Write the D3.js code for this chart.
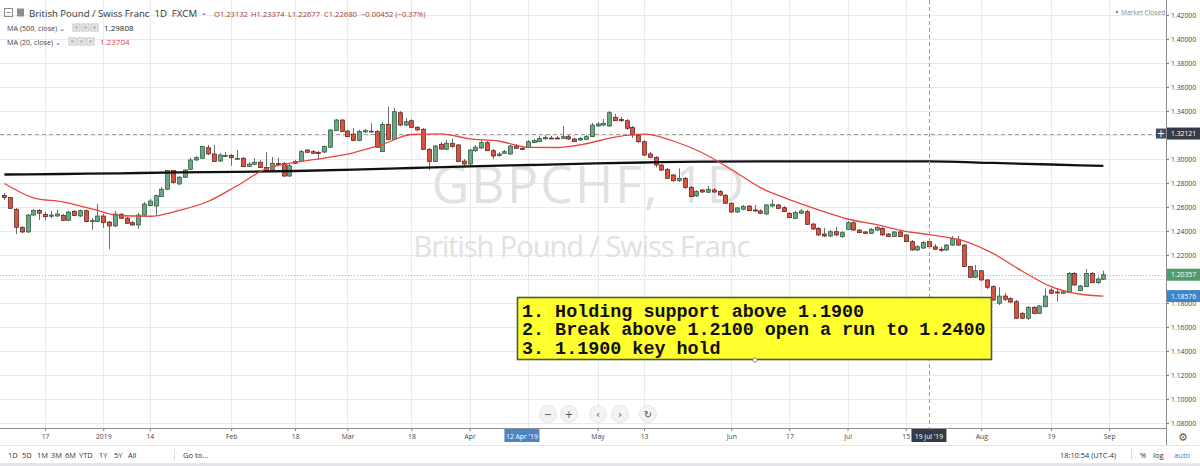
<!DOCTYPE html>
<html><head><meta charset="utf-8">
<script src="https://cdn.jsdelivr.net/npm/d3@7"></script>
<style>body{margin:0;background:#fff;overflow:hidden}svg{display:block}</style>
</head><body>
<svg id="c" width="1200" height="466"></svg>
<script>
// ---------- DATA ----------
const calendarStart = "2018-12-06", calendarEnd = "2019-09-03";
const holidays = ["2018-12-25", "2019-01-01"];

const open = [1.2696,1.2678,1.2581,1.2429,1.2392,1.2533,1.2571,1.2539,1.2523,1.2525,
1.2531,1.2489,1.2564,1.2525,1.2569,1.2479,1.2478,1.2525,1.2475,1.2442,
1.2539,1.2508,1.2469,1.245,1.2533,1.2611,1.2608,1.2686,1.2748,1.2903,
1.2792,1.2848,1.2914,1.2992,1.3006,1.3094,1.3042,1.2983,1.3025,1.3028,
1.2998,1.3006,1.2939,1.2956,1.2973,1.2928,1.2908,1.2964,1.2964,1.2858,
1.2964,1.2978,1.3075,1.3061,1.3054,1.3058,1.3098,1.3236,1.3325,1.3233,
1.3208,1.3153,1.3225,1.3228,1.3228,1.3061,1.3289,1.3164,1.3386,1.3283,
1.3319,1.3264,1.3248,1.3081,1.2978,1.3123,1.3081,1.3131,1.3117,1.2983,
1.2958,1.3069,1.3092,1.3136,1.3069,1.3028,1.3048,1.3042,1.3108,1.3089,
1.3098,1.3136,1.3144,1.3169,1.3175,1.3175,1.3172,1.3186,1.3167,1.3158,
1.3164,1.3186,1.3275,1.3283,1.3275,1.3348,1.3331,1.3319,1.3264,1.3198,
1.3144,1.3042,1.3014,1.295,1.2914,1.2867,1.2819,1.2839,1.2764,1.2692,
1.2742,1.2723,1.2742,1.2728,1.2698,1.2631,1.2558,1.2581,1.2608,1.2575,
1.2567,1.2542,1.2608,1.2617,1.2594,1.2548,1.2506,1.2548,1.2561,1.2458,
1.2422,1.2375,1.2358,1.2394,1.2353,1.2414,1.2469,1.2408,1.2392,1.2381,
1.2408,1.2422,1.2375,1.2353,1.2392,1.2367,1.2311,1.2242,1.2258,1.23132,
1.2268,1.2248,1.2242,1.2283,1.2331,1.2283,1.2103,1.2014,1.2069,1.1992,
1.1936,1.1798,1.1858,1.1836,1.1811,1.1714,1.1673,1.1764,1.1714,1.1769,
1.1908,1.1892,1.1881,1.1886,1.2047,1.1903,1.1936,1.2047,1.1969,1.1998];

const high = [1.2717,1.2683,1.2592,1.2442,1.2542,1.2583,1.2583,1.2561,1.2569,1.2575,
1.2542,1.2567,1.2575,1.2579,1.2579,1.2508,1.2625,1.2542,1.2483,1.2567,
1.255,1.2517,1.2483,1.255,1.2642,1.2667,1.2703,1.2767,1.2908,1.2908,
1.2858,1.2917,1.3008,1.3025,1.3108,1.3117,1.3117,1.305,1.3058,1.3042,
1.3075,1.3017,1.2975,1.3008,1.2992,1.3058,1.3017,1.3011,1.2975,1.2967,
1.2992,1.3075,1.3083,1.3075,1.3067,1.3113,1.325,1.3333,1.3333,1.3242,
1.3258,1.3242,1.325,1.3298,1.3242,1.3308,1.3436,1.3425,1.34,1.3342,
1.3333,1.3275,1.3258,1.3092,1.3117,1.3142,1.3158,1.3172,1.3125,1.3,
1.3083,1.3117,1.3158,1.315,1.3083,1.3058,1.3075,1.3117,1.3125,1.31,
1.3158,1.3167,1.3192,1.32,1.3192,1.3192,1.3275,1.32,1.3175,1.3183,
1.32,1.33,1.3308,1.3333,1.34,1.3375,1.335,1.3333,1.3275,1.3208,
1.3158,1.3058,1.3025,1.2958,1.2925,1.2875,1.2922,1.285,1.2775,1.2742,
1.275,1.2775,1.2758,1.2742,1.2708,1.2642,1.26,1.2617,1.2617,1.2617,
1.2583,1.2625,1.2664,1.2625,1.2608,1.2558,1.2567,1.2583,1.2575,1.2467,
1.2433,1.2425,1.2408,1.2433,1.24,1.2483,1.2483,1.2417,1.24,1.2425,
1.2442,1.2433,1.2383,1.24,1.24,1.2375,1.2325,1.2283,1.2317,1.23374,
1.2292,1.2267,1.2292,1.2358,1.2358,1.2292,1.2108,1.2117,1.2075,1.2,
1.195,1.1931,1.1883,1.185,1.1825,1.1725,1.1775,1.1775,1.1783,1.1922,
1.1925,1.1925,1.1908,1.2058,1.2058,1.195,1.2083,1.2058,1.2017,1.2069];

const low = [1.2658,1.2583,1.2375,1.2383,1.2383,1.2525,1.2492,1.2486,1.2506,1.2517,
1.2483,1.2483,1.2525,1.2517,1.2471,1.2408,1.2475,1.2425,1.2248,1.2433,
1.25,1.2458,1.2442,1.2417,1.2525,1.2608,1.2533,1.2683,1.2742,1.2792,
1.2783,1.2842,1.2908,1.2983,1.3,1.3033,1.2975,1.2975,1.3017,1.2944,
1.2992,1.2933,1.2933,1.295,1.2925,1.2892,1.29,1.295,1.285,1.285,
1.2958,1.2975,1.305,1.3042,1.2992,1.305,1.3092,1.3233,1.3225,1.3183,
1.315,1.315,1.3217,1.3217,1.3092,1.3058,1.3158,1.3158,1.3275,1.3275,
1.3258,1.3233,1.3075,1.2908,1.2975,1.3075,1.3075,1.3092,1.2975,1.2933,
1.2942,1.3058,1.3083,1.3067,1.3,1.3017,1.3042,1.3033,1.3083,1.3075,
1.3092,1.3133,1.3142,1.3158,1.3167,1.3167,1.3167,1.3158,1.3142,1.315,
1.3158,1.3183,1.3267,1.3275,1.3267,1.3317,1.3308,1.3242,1.3175,1.3133,
1.3025,1.3008,1.2931,1.29,1.2833,1.2808,1.2808,1.275,1.2683,1.2683,
1.2717,1.2717,1.2717,1.2692,1.2625,1.255,1.255,1.2575,1.2567,1.2558,
1.2542,1.2533,1.26,1.2583,1.2558,1.2508,1.25,1.2542,1.245,1.2408,
1.2358,1.235,1.235,1.2358,1.2342,1.2408,1.24,1.2383,1.2375,1.2375,
1.24,1.2358,1.235,1.235,1.235,1.2308,1.2233,1.2233,1.225,1.22677,
1.2242,1.2225,1.2233,1.2275,1.2275,1.21,1.2008,1.2008,1.1983,1.1917,
1.1817,1.1783,1.1817,1.18,1.1667,1.1667,1.1658,1.1708,1.1708,1.1767,
1.1875,1.1811,1.1875,1.1883,1.1942,1.19,1.1933,1.1967,1.1958,1.1992];

const close = [1.2679,1.2589,1.2431,1.2392,1.2533,1.2571,1.2548,1.2519,1.2533,1.2542,
1.2489,1.2558,1.2528,1.2569,1.2478,1.2486,1.2525,1.2469,1.2442,1.2542,
1.2506,1.2464,1.245,1.2533,1.2625,1.265,1.2694,1.2748,1.2903,1.2803,
1.2848,1.2908,1.2992,1.3011,1.3103,1.3042,1.2978,1.3033,1.3029,1.3011,
1.3006,1.2936,1.2958,1.2973,1.2928,1.29,1.2964,1.2956,1.2858,1.2944,
1.2978,1.3061,1.3056,1.3048,1.305,1.3103,1.3242,1.3325,1.3228,1.3186,
1.3153,1.3228,1.3236,1.3233,1.3098,1.3289,1.3164,1.3394,1.3283,1.3311,
1.3264,1.3242,1.3081,1.2978,1.3108,1.3083,1.3131,1.3103,1.2978,1.2958,
1.3075,1.3098,1.3136,1.3069,1.3025,1.3042,1.3061,1.3108,1.3089,1.3083,
1.3144,1.3153,1.3172,1.3178,1.3172,1.3169,1.3186,1.3167,1.3144,1.3172,
1.3186,1.3283,1.3292,1.3298,1.3386,1.3319,1.3319,1.3256,1.32,1.3144,
1.3033,1.3014,1.295,1.2908,1.2839,1.2819,1.2839,1.2764,1.2686,1.2728,
1.2725,1.2748,1.2725,1.27,1.2631,1.2558,1.2592,1.2603,1.2569,1.2567,
1.2548,1.2617,1.2623,1.2589,1.2561,1.2511,1.2553,1.2567,1.2456,1.2417,
1.2367,1.2358,1.2394,1.2367,1.2386,1.2469,1.2408,1.2386,1.2381,1.2414,
1.2431,1.2367,1.2353,1.2392,1.2353,1.2311,1.2242,1.2269,1.2303,1.2268,
1.2248,1.2242,1.2283,1.2339,1.2283,1.2103,1.2014,1.2069,1.1992,1.1931,
1.1825,1.1858,1.1831,1.1808,1.1673,1.1673,1.1764,1.1714,1.1775,1.1858,
1.1881,1.1888,1.1894,1.2047,1.195,1.1942,1.2047,1.1969,1.2,1.20357];

// moving averages read at bar positions (bar index into the calendar)
const ma20Bars = [0,5,10,15,20,25,30,35,40,45,50,55,60,65,70,75,80,85,90,95,100,105,110,115,120,125,130,135,140,145,150,155,159,165,170,175,180,185,189];
const ma20Vals = [1.2796,1.2677,1.2642,1.2585,1.2527,1.2523,1.2571,1.2646,1.2777,1.2918,1.2971,1.3008,1.3052,1.3121,1.3204,1.3210,1.3168,1.3150,1.3097,1.3096,1.3127,1.3183,1.3207,1.3150,1.3052,1.2913,1.2762,1.2662,1.2577,1.2500,1.2454,1.2397,1.23704,1.2318,1.2213,1.2067,1.1936,1.1873,1.18576];
const ma500Bars = [0,10,20,30,40,50,60,70,80,90,100,110,120,130,140,150,159,170,180,189];
const ma500Vals = [1.2871,1.2875,1.2881,1.2888,1.2893,1.2900,1.2911,1.2925,1.2939,1.2950,1.2961,1.2971,1.2978,1.2980,1.2981,1.2981,1.29808,1.2967,1.2954,1.2942];

const priceTicks = [1.08,1.10,1.12,1.14,1.16,1.18,1.20,1.22,1.24,1.26,1.28,1.30,1.32,1.34,1.36,1.38,1.40,1.42];
const hiddenPriceLabels = [1.20];   // covered by the last-price tag in the reference
const timeTickDates = ["2018-12-17","2019-01-02","2019-01-14","2019-02-01","2019-02-18","2019-03-01","2019-03-18","2019-04-01","2019-04-15","2019-05-01","2019-05-13","2019-06-03","2019-06-17","2019-07-01","2019-07-15","2019-08-01","2019-08-19","2019-09-02"];
const timeTickLabels = ["17","2019","14","Feb","18","Mar","18","Apr","","May","13","Jun","17","Jul","15","Aug","19","Sep"];

const crossDate = "2019-07-19", crossPrice = 1.32121;
const markDate = "2019-04-12";
const lastClose = 1.20357, lastMA20 = 1.18576;
const notes = ["1. Holding support above 1.1900", "2. Break above 1.2100 open a run to 1.2400", "3. 1.1900 key hold"];

// ---------- CALENDAR ----------
const days = [];
for (let d = new Date(calendarStart + "T00:00:00Z"); d <= new Date(calendarEnd + "T00:00:00Z"); d.setUTCDate(d.getUTCDate() + 1)) {
  const s = d.toISOString().slice(0, 10), wd = d.getUTCDay();
  if (wd === 0 || wd === 6 || holidays.includes(s)) continue;
  days.push(s);
}
const idx = s => days.indexOf(s);

// ---------- DRAW ----------
const svg = d3.select("#c");
const plotR = 1166, plotB = 428;
const x = d3.scaleLinear().domain([0, 189]).range([4.4, 1103.4]);
const y = d3.scaleLinear().domain([1.08, 1.42]).range([423, 15]);
const UI = "'Open Sans', 'DejaVu Sans', sans-serif";

const defs = svg.append("defs");
defs.append("clipPath").attr("id", "plot").append("rect").attr("x", 0).attr("y", 0).attr("width", plotR).attr("height", plotB);
defs.append("clipPath").attr("id", "yax").append("rect").attr("x", 0).attr("y", 0).attr("width", 40).attr("height", 426);

// grid
const grid = svg.append("g").attr("clip-path", "url(#plot)");
grid.selectAll(".gh").data(priceTicks).join("line")
  .attr("x1", 0).attr("x2", plotR).attr("y1", d => Math.round(y(d)) + 0.5).attr("y2", d => Math.round(y(d)) + 0.5)
  .attr("stroke", "#e8eaee");
grid.selectAll(".gv").data(timeTickDates).join("line")
  .attr("y1", 0).attr("y2", plotB).attr("x1", d => Math.round(x(idx(d))) + 0.5).attr("x2", d => Math.round(x(idx(d))) + 0.5)
  .attr("stroke", "#e8eaee");

// watermark
svg.append("text").attr("x", 588).attr("y", 203).attr("text-anchor", "middle")
  .attr("font-family", UI).attr("font-size", 52).attr("fill", "#e1e1e1")
  .attr("textLength", 313).attr("lengthAdjust", "spacing").text("GBPCHF, 1D");
svg.append("text").attr("x", 582).attr("y", 257).attr("text-anchor", "middle")
  .attr("font-family", UI).attr("font-size", 29).attr("fill", "#e1e1e1")
  .attr("textLength", 337).attr("lengthAdjust", "spacing").text("British Pound / Swiss Franc");

const plot = svg.append("g").attr("clip-path", "url(#plot)");

// crosshair + price lines
plot.append("line").attr("x1", 0).attr("x2", plotR).attr("y1", Math.round(y(crossPrice)) + 0.5).attr("y2", Math.round(y(crossPrice)) + 0.5)
  .attr("stroke", "#9a9a9a").attr("stroke-dasharray", "4,3");
plot.append("line").attr("x1", 0).attr("x2", plotR).attr("y1", Math.round(y(lastClose)) + 0.5).attr("y2", Math.round(y(lastClose)) + 0.5)
  .attr("stroke", "#a8a8a8").attr("stroke-dasharray", "1,2");
svg.append("line").attr("y1", 0).attr("y2", plotB + 14).attr("x1", Math.round(x(idx(crossDate))) + 0.5).attr("x2", Math.round(x(idx(crossDate))) + 0.5)
  .attr("stroke", "#9a9a9a").attr("stroke-dasharray", "4,3");

// candles
const bars = d3.range(open.length).map(i => ({i, o: open[i], h: high[i], l: low[i], c: close[i]}));
const upFill = "#6ba583", upLine = "#225437", dnFill = "#d75442", dnLine = "#5b1a13";
plot.selectAll(".wick").data(bars).join("line")
  .attr("x1", d => Math.round(x(d.i)) + 0.5).attr("x2", d => Math.round(x(d.i)) + 0.5)
  .attr("y1", d => y(d.h)).attr("y2", d => y(d.l)).attr("stroke", "#6d6d6f").attr("stroke-width", 1);
plot.selectAll(".body").data(bars).join("rect")
  .attr("x", d => Math.round(x(d.i)) - 1.5).attr("width", 4)
  .attr("y", d => y(Math.max(d.o, d.c)))
  .attr("height", d => Math.max(1, y(Math.min(d.o, d.c)) - y(Math.max(d.o, d.c))))
  .attr("fill", d => d.c >= d.o ? upFill : dnFill)
  .attr("stroke", d => d.c >= d.o ? upLine : dnLine).attr("stroke-width", 0.7);

// moving averages
const line = d3.line().x(d => x(d[0])).y(d => y(d[1])).curve(d3.curveMonotoneX);
plot.append("path").attr("d", line(ma500Bars.map((b, k) => [b, ma500Vals[k]])))
  .attr("fill", "none").attr("stroke", "#111").attr("stroke-width", 2.3);
plot.append("path").attr("d", line(ma20Bars.map((b, k) => [b, ma20Vals[k]])))
  .attr("fill", "none").attr("stroke", "#e8453c").attr("stroke-width", 1.3);

// annotation box
const box = svg.append("g");
box.append("rect").attr("x", 517.5).attr("y", 297.5).attr("width", 474).attr("height", 62)
  .attr("fill", "#ffff2e").attr("stroke", "#4f5a35").attr("stroke-width", 1.6);
box.selectAll("text").data(notes).join("text")
  .attr("x", 522).attr("y", (d, i) => 316.5 + i * 18.8)
  .attr("font-family", "'Liberation Mono', 'Courier New', monospace").attr("font-weight", "bold")
  .attr("font-size", 18.4).attr("fill", "#111").attr("xml:space", "preserve").text(d => d);
box.append("circle").attr("cx", 755).attr("cy", 360).attr("r", 2.2).attr("fill", "#fff").attr("stroke", "#888");

// price axis
svg.append("rect").attr("x", plotR).attr("y", 0).attr("width", 34).attr("height", 446).attr("fill", "#fff");
const yAx = svg.append("g").attr("transform", `translate(${plotR},0)`).attr("clip-path", "url(#yax)")
  .call(d3.axisRight(y).tickValues(priceTicks)
    .tickFormat(d => hiddenPriceLabels.includes(d) ? "" : d3.format(".5f")(d)).tickSize(3).tickPadding(2));
yAx.select(".domain").remove();
yAx.selectAll("line").attr("stroke", "#777");
yAx.selectAll("text").attr("font-family", UI).attr("font-size", 6.8).attr("fill", "#444");
svg.append("line").attr("x1", plotR + 0.5).attr("x2", plotR + 0.5).attr("y1", 0).attr("y2", 446).attr("stroke", "#8c8c8c");

// time axis
const xAx = svg.append("g").attr("transform", `translate(0,${plotB})`)
  .call(d3.axisBottom(x).tickValues(timeTickDates.map(idx)).tickFormat((d, i) => timeTickLabels[i]).tickSize(3).tickPadding(3));
xAx.select(".domain").remove();
xAx.selectAll("line").attr("stroke", "#777");
xAx.selectAll("text").attr("font-family", UI).attr("font-size", 6.8).attr("fill", "#444");
svg.append("line").attr("x1", 0).attr("x2", plotR).attr("y1", plotB + 0.5).attr("y2", plotB + 0.5).attr("stroke", "#8c8c8c");
svg.append("line").attr("x1", 0).attr("x2", 1200).attr("y1", 445.5).attr("y2", 445.5).attr("stroke", "#e3e5ea");

// date labels on time axis
function dateTag(d, label, fill) {
  const cx = x(idx(d));
  svg.append("rect").attr("x", cx - 17.5).attr("y", 429).attr("width", 35).attr("height", 13).attr("fill", fill);
  svg.append("text").attr("x", cx).attr("y", 438.5).attr("text-anchor", "middle").attr("font-family", UI)
    .attr("font-size", 6.8).attr("fill", "#fff").text(label);
}
dateTag(markDate, "12 Apr '19", "#4d82c3");
dateTag(crossDate, "19 Jul '19", "#343a47");

// price tags
function priceTag(p, fill) {
  const cy = y(p);
  svg.append("rect").attr("x", plotR + 1).attr("y", cy - 6).attr("width", 34).attr("height", 12).attr("fill", fill);
  svg.append("text").attr("x", plotR + 5).attr("y", cy + 2.5).attr("font-family", UI).attr("font-size", 6.8)
    .attr("fill", "#fff").text(d3.format(".5f")(p));
}
priceTag(crossPrice, "#363a45");
priceTag(lastClose, "#4f9c68");
priceTag(lastMA20, "#3d85c6");
svg.append("rect").attr("x", 1156).attr("y", y(crossPrice) - 5).attr("width", 10).attr("height", 10).attr("fill", "#4a4e59");
svg.append("text").attr("x", 1161).attr("y", y(crossPrice) + 3.5).attr("text-anchor", "middle").attr("font-family", "DejaVu Sans")
  .attr("font-size", 10).attr("fill", "#fff").text("+");

// header
const hdr = svg.append("g").attr("font-family", UI);
hdr.append("rect").attr("x", 4.5).attr("y", 8.5).attr("width", 8).attr("height", 8).attr("fill", "none").attr("stroke", "#8a8a8a");
hdr.append("line").attr("x1", 6.5).attr("x2", 10.5).attr("y1", 12.5).attr("y2", 12.5).attr("stroke", "#8a8a8a");
hdr.append("rect").attr("x", 17).attr("y", 8.5).attr("width", 7).attr("height", 8).attr("fill", "#8f8f8f");
hdr.append("text").attr("x", 29).attr("y", 16.5).attr("font-size", 9.6).attr("fill", "#333")
  .attr("xml:space", "preserve").text("British Pound / Swiss Franc  1D  FXCM");
hdr.append("text").attr("x", 201).attr("y", 15).attr("font-size", 7).attr("fill", "#333").text("⌄");
const ohlcTxt = ["O1.23132", "H1.23374", "L1.22677", "C1.22680", "−0.00452 (−0.37%)"];
const ohlcX = [214, 251, 288, 324, 361];
hdr.selectAll(".ohlc").data(ohlcTxt).join("text").attr("x", (d, i) => ohlcX[i]).attr("y", 16.5)
  .attr("font-size", 7.6).attr("fill", "#9b3b38").text(d => d);
function maRow(yy, label, val, col, vx) {
  hdr.append("text").attr("x", 7).attr("y", yy).attr("font-size", 7.2).attr("fill", "#444").text(label + " ⌄");
  [0, 1, 2].forEach(k => {
    hdr.append("rect").attr("x", vx - 31 + k * 9).attr("y", yy - 7).attr("width", 7).attr("height", 7)
      .attr("fill", "#fff").attr("stroke", "#aaa").attr("stroke-width", 0.8);
    hdr.append("rect").attr("x", vx - 29.5 + k * 9).attr("y", yy - 5.5).attr("width", 4).attr("height", 4).attr("fill", "#c4c4c4");
  });
  hdr.append("text").attr("x", vx).attr("y", yy).attr("font-size", 8).attr("fill", col).text(val);
}
maRow(31, "MA (500, close)", "1.29808", "#222", 104);
maRow(45, "MA (20, close)", "1.23704", "#e0453d", 100);

// market closed
svg.append("circle").attr("cx", 1117).attr("cy", 12).attr("r", 1.3).attr("fill", "#888");
svg.append("text").attr("x", 1121).attr("y", 14.5).attr("font-family", UI).attr("font-size", 6.6).attr("fill", "#888").text("Market Closed");

// zoom buttons
const btns = [[548, "−"], [569, "+"], [598, "‹"], [620, "›"], [648, "↻"]];
btns.forEach(([bx, t]) => {
  svg.append("circle").attr("cx", bx).attr("cy", 414).attr("r", 8.5).attr("fill", "#f2f3f5").attr("stroke", "#e6e7ea");
  svg.append("text").attr("x", bx).attr("y", 417.5).attr("text-anchor", "middle").attr("font-family", "DejaVu Sans")
    .attr("font-size", 10).attr("fill", "#555").text(t);
});

// gear
svg.append("text").attr("x", 1183).attr("y", 441).attr("text-anchor", "middle").attr("font-family", "DejaVu Sans")
  .attr("font-size", 11).attr("fill", "#555").text("⚙");

// bottom toolbar
svg.append("rect").attr("x", 0).attr("y", 463).attr("width", 1200).attr("height", 3).attr("fill", "#e4e6eb");
const ranges = ["1D", "5D", "1M", "3M", "6M", "YTD", "1Y", "5Y", "All"];
const rangeX = [8, 22, 37, 51, 65, 79, 99, 114, 128];
svg.selectAll(".rng").data(ranges).join("text").attr("x", (d, i) => rangeX[i]).attr("y", 457.5)
  .attr("font-family", UI).attr("font-size", 7.4).attr("fill", "#333").text(d => d);
svg.append("line").attr("x1", 174.5).attr("x2", 174.5).attr("y1", 449).attr("y2", 460).attr("stroke", "#ddd");
svg.append("text").attr("x", 183).attr("y", 457.5).attr("font-family", UI).attr("font-size", 7.6).attr("fill", "#333").text("Go to...");
svg.append("text").attr("x", 1060).attr("y", 457.5).attr("font-family", UI).attr("font-size", 7.4).attr("fill", "#333").text("18:10:54 (UTC-4)");
svg.append("line").attr("x1", 1131.5).attr("x2", 1131.5).attr("y1", 449).attr("y2", 460).attr("stroke", "#ddd");
svg.append("text").attr("x", 1140).attr("y", 457.5).attr("font-family", UI).attr("font-size", 7.6).attr("fill", "#333").text("%");
svg.append("text").attr("x", 1153).attr("y", 457.5).attr("font-family", UI).attr("font-size", 7.6).attr("fill", "#333").text("log");
svg.append("text").attr("x", 1174).attr("y", 457.5).attr("font-family", UI).attr("font-size", 7.6).attr("fill", "#3a7bd5").text("auto");
</script>
</body></html>
